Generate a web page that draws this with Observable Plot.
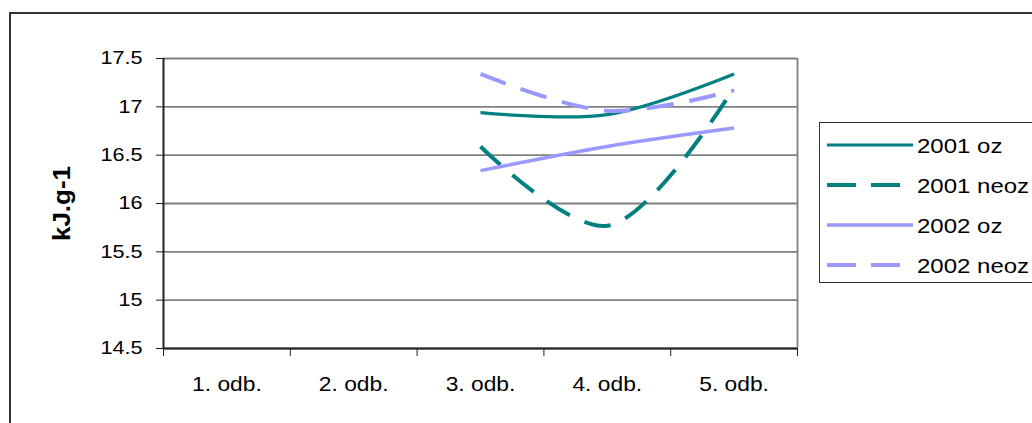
<!DOCTYPE html>
<html><head><meta charset="utf-8">
<script src="https://cdn.jsdelivr.net/npm/d3@7"></script>
<script src="https://cdn.jsdelivr.net/npm/@observablehq/plot@0.6"></script>
<style>
body{margin:0;width:1032px;height:423px;overflow:hidden;background:#fff;position:relative;font-family:"Liberation Sans",Arial,sans-serif;}
#frame{position:absolute;left:9px;top:12px;width:1100px;height:500px;border:2px solid #333;box-sizing:border-box;}
#chart{position:absolute;left:0;top:0;}
#legend{position:absolute;left:819px;top:122px;width:240px;height:161px;border:1.5px solid #333;box-sizing:border-box;background:#fff;}
.row{position:absolute;left:0;height:30px;width:240px;}
.row svg{position:absolute;left:7px;top:0;}
.row span{position:absolute;left:97px;top:3px;font-size:20px;color:#000;line-height:24px;white-space:nowrap;transform:scaleX(1.2);transform-origin:left center;}
</style></head><body>
<div id="frame"></div>
<div id="chart"></div>
<div id="legend"></div>
<script>
const categories = ["1. odb.", "2. odb.", "3. odb.", "4. odb.", "5. odb."];
const seriesNames = ["2001 oz", "2001 neoz", "2002 oz", "2002 neoz"];
const v2001oz   = [null, null, 16.94, 16.92, 17.34];
const v2001neoz = [null, null, 16.59, 15.77, 17.20];
const v2002oz   = [null, null, 16.34, 16.59, 16.78];
const v2002neoz = [null, null, 17.34, 16.96, 17.17];
const yTicks = [14.5, 15, 15.5, 16, 16.5, 17, 17.5];
const yLabel = "kJ.g-1";

const seriesValues = [v2001oz, v2001neoz, v2002oz, v2002neoz];
const seriesColor = ["#008080", "#008080", "#9999FF", "#9999FF"];
const seriesDash = [null, "27,16", null, "27,16"];
const seriesWidth = [3.2, 4, 3.5, 4];

const data = seriesValues.map((vals, s) =>
  vals.map((v, i) => ({series: seriesNames[s], x: i + 0.5, y: v})).filter(d => d.y != null)
);

const lineMarks = data.map((d, s) => Plot.line(d, {
  x: "x", y: "y", stroke: seriesColor[s], strokeWidth: seriesWidth[s],
  strokeDasharray: seriesDash[s] || undefined, curve: "catmull-rom", strokeLinecap: "butt"
}));

const plot = Plot.plot({
  width: 1032, height: 423,
  marginLeft: 163, marginRight: 235, marginTop: 58, marginBottom: 75,
  style: {fontFamily: '"Liberation Sans", Arial, sans-serif', fontSize: "19px", color: "#222", background: "transparent"},
  x: {domain: [0, categories.length], axis: null},
  y: {domain: [14.5, 17.5], axis: null},
  marks: [
    Plot.ruleY(yTicks, {stroke: "#808080", strokeWidth: 1.8}),
    Plot.ruleX([categories.length], {stroke: "#808080", strokeWidth: 1.8}),
    ...lineMarks,
    Plot.ruleX([0], {stroke: "#222", strokeWidth: 2}),
    Plot.ruleY([14.5], {stroke: "#222", strokeWidth: 2}),
    Plot.axisY({ticks: yTicks, tickSize: 7, tickPadding: 14, label: null, fontSize: 18.5,
      tickFormat: d => String(d), fill: "#000"}),
    Plot.axisX({ticks: d3.range(categories.length + 1), tickSize: 8, tickFormat: () => "", label: null}),
    Plot.axisX({ticks: categories.map((c, i) => i + 0.5), tickSize: 0, tickPadding: 28,
      tickFormat: v => categories[Math.floor(v)], label: null, fontSize: 20, fill: "#000"}),
    Plot.text([yLabel], {text: d => d, frameAnchor: "left", textAnchor: "middle", dx: -101, rotate: -90,
      fontWeight: "bold", fontSize: 23, fill: "#000"})
  ]
});
document.getElementById("chart").appendChild(plot);

// widen the glyphs horizontally (the reference uses a horizontally stretched Arial)
function stretch(sel, k) {
  plot.querySelectorAll(sel).forEach(t => {
    const tr = t.getAttribute("transform");
    if (tr) t.setAttribute("transform", tr + ` scale(${k},1)`);
  });
}
stretch('g[aria-label="y-axis tick label"] text', 1.17);
stretch('g[aria-label="x-axis tick label"] text', 1.14);
stretch('g[aria-label="text"] text', 1.13);

const legend = document.getElementById("legend");
const rowTops = [8, 48, 88, 128];
seriesNames.forEach((name, s) => {
  const row = document.createElement("div");
  row.className = "row";
  row.style.top = rowTops[s] + "px";
  const dash = seriesDash[s] ? `stroke-dasharray="29,15"` : "";
  row.innerHTML = `<svg width="88" height="30"><line x1="0" x2="86" y1="14" y2="14" stroke="${seriesColor[s]}" stroke-width="${seriesWidth[s]}" ${dash}/></svg><span>${name}</span>`;
  legend.appendChild(row);
});
</script>
</body></html>
